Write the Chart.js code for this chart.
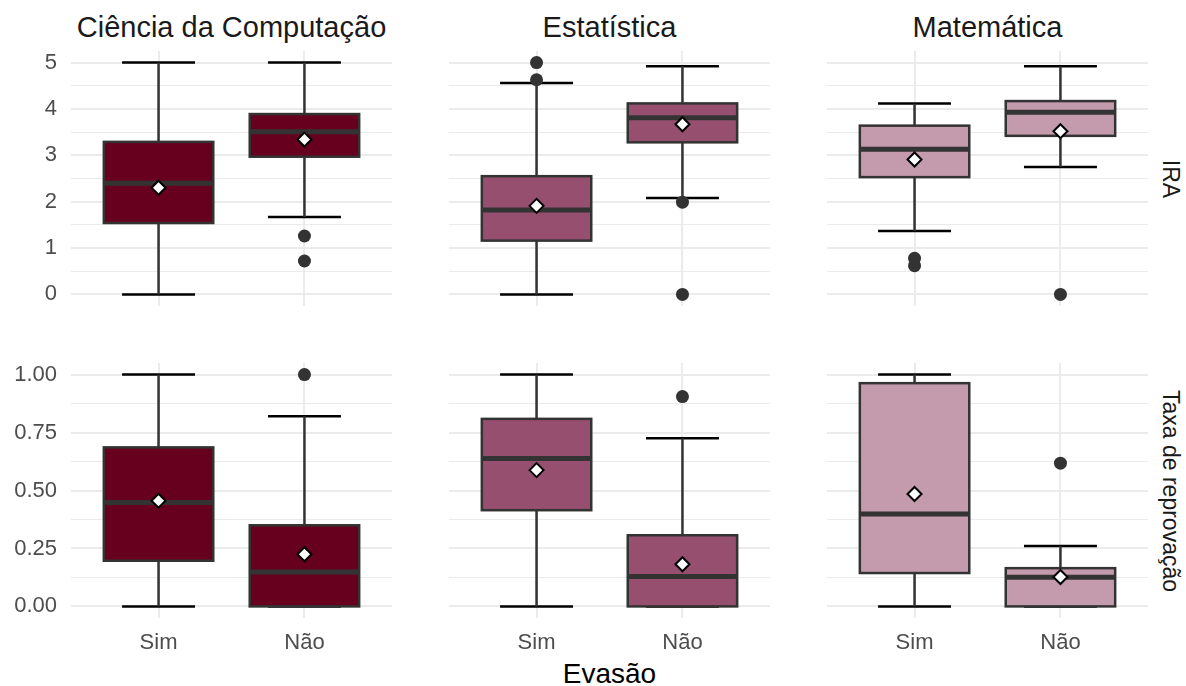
<!DOCTYPE html>
<html>
<head>
<meta charset="utf-8">
<script src="https://cdn.jsdelivr.net/npm/chart.js@4/dist/chart.umd.min.js"></script>
<style>
  body { margin: 0; background: #fff; width: 1186px; height: 686px; position: relative; overflow: hidden;
         font-family: "Liberation Sans", Arial, sans-serif; }
  .panel { position: absolute; }
  .lbl { position: absolute; line-height: 1; white-space: nowrap; }
</style>
</head>
<body>
<script>
// ── Data ─────────────────────────────────────────────────────
const programs = ['Ciência da Computação', 'Estatística', 'Matemática'];
const groups   = ['Sim', 'Não'];
const metrics  = ['IRA', 'Taxa de reprovação'];
const fills    = ['#67001f', '#974f6f', '#c49aad'];

// IRA – one [Sim, Não] pair per program
const iraLow  = [[0, 1.67], [0, 2.08], [1.37, 2.75]];
const iraQ1   = [[1.54, 2.97], [1.16, 3.28], [2.53, 3.42]];
const iraMed  = [[2.40, 3.51], [1.82, 3.81], [3.13, 3.93]];
const iraQ3   = [[3.29, 3.89], [2.55, 4.12], [3.64, 4.17]];
const iraHigh = [[5.00, 5.00], [4.56, 4.92], [4.12, 4.92]];
const iraMean = [[2.30, 3.34], [1.91, 3.67], [2.91, 3.52]];
const iraOut  = [[[], [1.26, 0.72]], [[5.00, 4.63], [1.99, 0]], [[0.78, 0.62], [0]]];

// Taxa de reprovação
const taxaLow  = [[0, 0], [0, 0], [0, 0]];
const taxaQ1   = [[0.197, 0], [0.415, 0], [0.144, 0]];
const taxaMed  = [[0.448, 0.148], [0.638, 0.129], [0.399, 0.126]];
const taxaQ3   = [[0.686, 0.350], [0.809, 0.307], [0.963, 0.165]];
const taxaHigh = [[1.00, 0.82], [1.00, 0.725], [1.00, 0.261]];
const taxaMean = [[0.456, 0.225], [0.588, 0.182], [0.485, 0.127]];
const taxaOut  = [[[], [1.00]], [[], [0.905]], [[], [0.618]]];

// ticks
const iraMajor   = [0, 1, 2, 3, 4, 5];
const iraMinor   = [0.5, 1.5, 2.5, 3.5, 4.5];
const iraLabels  = ['0', '1', '2', '3', '4', '5'];
const taxaMajor  = [0, 0.25, 0.5, 0.75, 1];
const taxaMinor  = [0.125, 0.375, 0.625, 0.875];
const taxaLabels = ['0.00', '0.25', '0.50', '0.75', '1.00'];

// ── Layout (pixels) ──────────────────────────────────────────
const FONT = '"Liberation Sans", Arial, sans-serif';
const colLeft  = [71, 449, 827];
const colWidth = 321;
const rowTop   = [51, 363];
const rowH     = 255;
const axisW    = 71;
const axisH    = 40;

const rows = [
  { low: iraLow, q1: iraQ1, med: iraMed, q3: iraQ3, high: iraHigh, mean: iraMean, out: iraOut,
    major: iraMajor, minor: iraMinor, labels: iraLabels, min: -0.25, max: 5.25 },
  { low: taxaLow, q1: taxaQ1, med: taxaMed, q3: taxaQ3, high: taxaHigh, mean: taxaMean, out: taxaOut,
    major: taxaMajor, minor: taxaMinor, labels: taxaLabels, min: -0.05, max: 1.05 }
];

// ── Box plugin ───────────────────────────────────────────────
const boxPlugin = {
  id: 'boxes',
  beforeDatasetsDraw(chart, args, opts) {
    const { ctx, scales: { x, y } } = chart;
    const s = opts.stats;
    groups.forEach((g, i) => {
      const pos = i + 1;
      const xc = x.getPixelForValue(pos);
      const bl = x.getPixelForValue(pos - 0.375), br = x.getPixelForValue(pos + 0.375);
      const cl = x.getPixelForValue(pos - 0.25),  cr = x.getPixelForValue(pos + 0.25);
      const yLow = y.getPixelForValue(s.low[i]), yHigh = y.getPixelForValue(s.high[i]);
      const yQ1 = y.getPixelForValue(s.q1[i]), yQ3 = y.getPixelForValue(s.q3[i]);
      const yMed = y.getPixelForValue(s.med[i]);
      ctx.save();
      // errorbar caps
      ctx.strokeStyle = '#000';
      ctx.lineWidth = 2.5;
      ctx.beginPath();
      ctx.moveTo(cl, yHigh); ctx.lineTo(cr, yHigh);
      ctx.moveTo(cl, yLow);  ctx.lineTo(cr, yLow);
      ctx.stroke();
      // whiskers
      ctx.strokeStyle = '#333333';
      ctx.beginPath();
      ctx.moveTo(xc, yHigh); ctx.lineTo(xc, yQ3);
      ctx.moveTo(xc, yQ1);   ctx.lineTo(xc, yLow);
      ctx.stroke();
      // box
      ctx.fillStyle = opts.fill;
      ctx.fillRect(bl, yQ3, br - bl, yQ1 - yQ3);
      ctx.strokeRect(bl, yQ3, br - bl, yQ1 - yQ3);
      // median
      ctx.lineWidth = 5;
      ctx.beginPath();
      ctx.moveTo(bl, yMed); ctx.lineTo(br, yMed);
      ctx.stroke();
      ctx.restore();
    });
  }
};

// ── Panels ───────────────────────────────────────────────────
function makePanel(r, c) {
  const row = rows[r];
  const stats = {
    low: row.low[c], q1: row.q1[c], med: row.med[c], q3: row.q3[c], high: row.high[c]
  };
  const left = c === 0 ? 0 : colLeft[c];
  const width = c === 0 ? colLeft[0] + colWidth : colWidth;
  const height = r === 1 ? rowH + axisH : rowH;

  const div = document.createElement('div');
  div.className = 'panel';
  div.style.cssText = `left:${left}px;top:${rowTop[r]}px;width:${width}px;height:${height}px`;
  const canvas = document.createElement('canvas');
  div.appendChild(canvas);
  document.body.appendChild(div);

  const outPts = [];
  row.out[c].forEach((vals, i) => vals.forEach(v => outPts.push({ x: i + 1, y: v })));
  const meanPts = row.mean[c].map((v, i) => ({ x: i + 1, y: v }));
  const allTicks = [...row.major, ...row.minor].sort((a, b) => a - b);

  new Chart(canvas, {
    type: 'scatter',
    data: {
      datasets: [
        { data: meanPts, pointStyle: 'rectRot', pointRadius: 7, backgroundColor: '#fff',
          borderColor: '#000', borderWidth: 2 },
        { data: outPts, pointStyle: 'circle', pointRadius: 6.5, backgroundColor: '#333333',
          borderWidth: 0 }
      ]
    },
    options: {
      responsive: true,
      maintainAspectRatio: false,
      animation: false,
      events: [],
      layout: { padding: 0, autoPadding: false },
      plugins: { legend: { display: false }, tooltip: { enabled: false }, boxes: { stats, fill: fills[c] } },
      scales: {
        x: {
          type: 'linear', min: 0.4, max: 2.6,
          afterBuildTicks: s => { s.ticks = groups.map((g, i) => ({ value: i + 1 })); },
          afterFit: s => { s.height = r === 1 ? axisH : 0; s.paddingLeft = 0; s.paddingRight = 0; },
          grid: { color: '#ebebeb', lineWidth: 2, drawTicks: false },
          border: { display: false },
          ticks: {
            display: r === 1, padding: 12, color: '#4d4d4d', font: { size: 22, family: FONT },
            autoSkip: false, maxRotation: 0,
            callback: v => groups[Math.round(v) - 1]
          }
        },
        y: {
          min: row.min, max: row.max,
          afterBuildTicks: s => { s.ticks = allTicks.map(v => ({ value: v })); },
          afterFit: s => { s.width = c === 0 ? axisW : 0; s.paddingTop = 0; s.paddingBottom = 0; },
          grid: {
            color: '#ebebeb', drawTicks: false,
            lineWidth: ctx => (ctx.tick && row.major.includes(ctx.tick.value)) ? 2 : 1
          },
          border: { display: false },
          ticks: {
            display: c === 0, padding: 14, color: '#4d4d4d', font: { size: 22, family: FONT },
            autoSkip: false,
            callback: v => { const k = row.major.indexOf(v); return k >= 0 ? row.labels[k] : ''; }
          }
        }
      }
    },
    plugins: [boxPlugin]
  });
}

for (let r = 0; r < 2; r++) for (let c = 0; c < 3; c++) makePanel(r, c);

// ── Strip labels and axis title ──────────────────────────────
function addLabel(text, css) {
  const d = document.createElement('div');
  d.className = 'lbl';
  d.textContent = text;
  d.style.cssText += css;
  document.body.appendChild(d);
}

programs.forEach((p, c) => {
  const cx = colLeft[c] + colWidth / 2;
  addLabel(p, `left:${cx}px;top:12.5px;font-size:29px;color:#1a1a1a;transform:translateX(-50%)`);
});
metrics.forEach((m, r) => {
  const cy = rowTop[r] + rowH / 2;
  addLabel(m, `left:1170px;top:${cy}px;font-size:23px;color:#1a1a1a;transform:translate(-50%,-50%) rotate(90deg)`);
});
addLabel('Evasão', `left:${(colLeft[0] + colLeft[2] + colWidth) / 2}px;top:659.5px;font-size:28px;color:#000;transform:translateX(-50%)`);
</script>
</body>
</html>
